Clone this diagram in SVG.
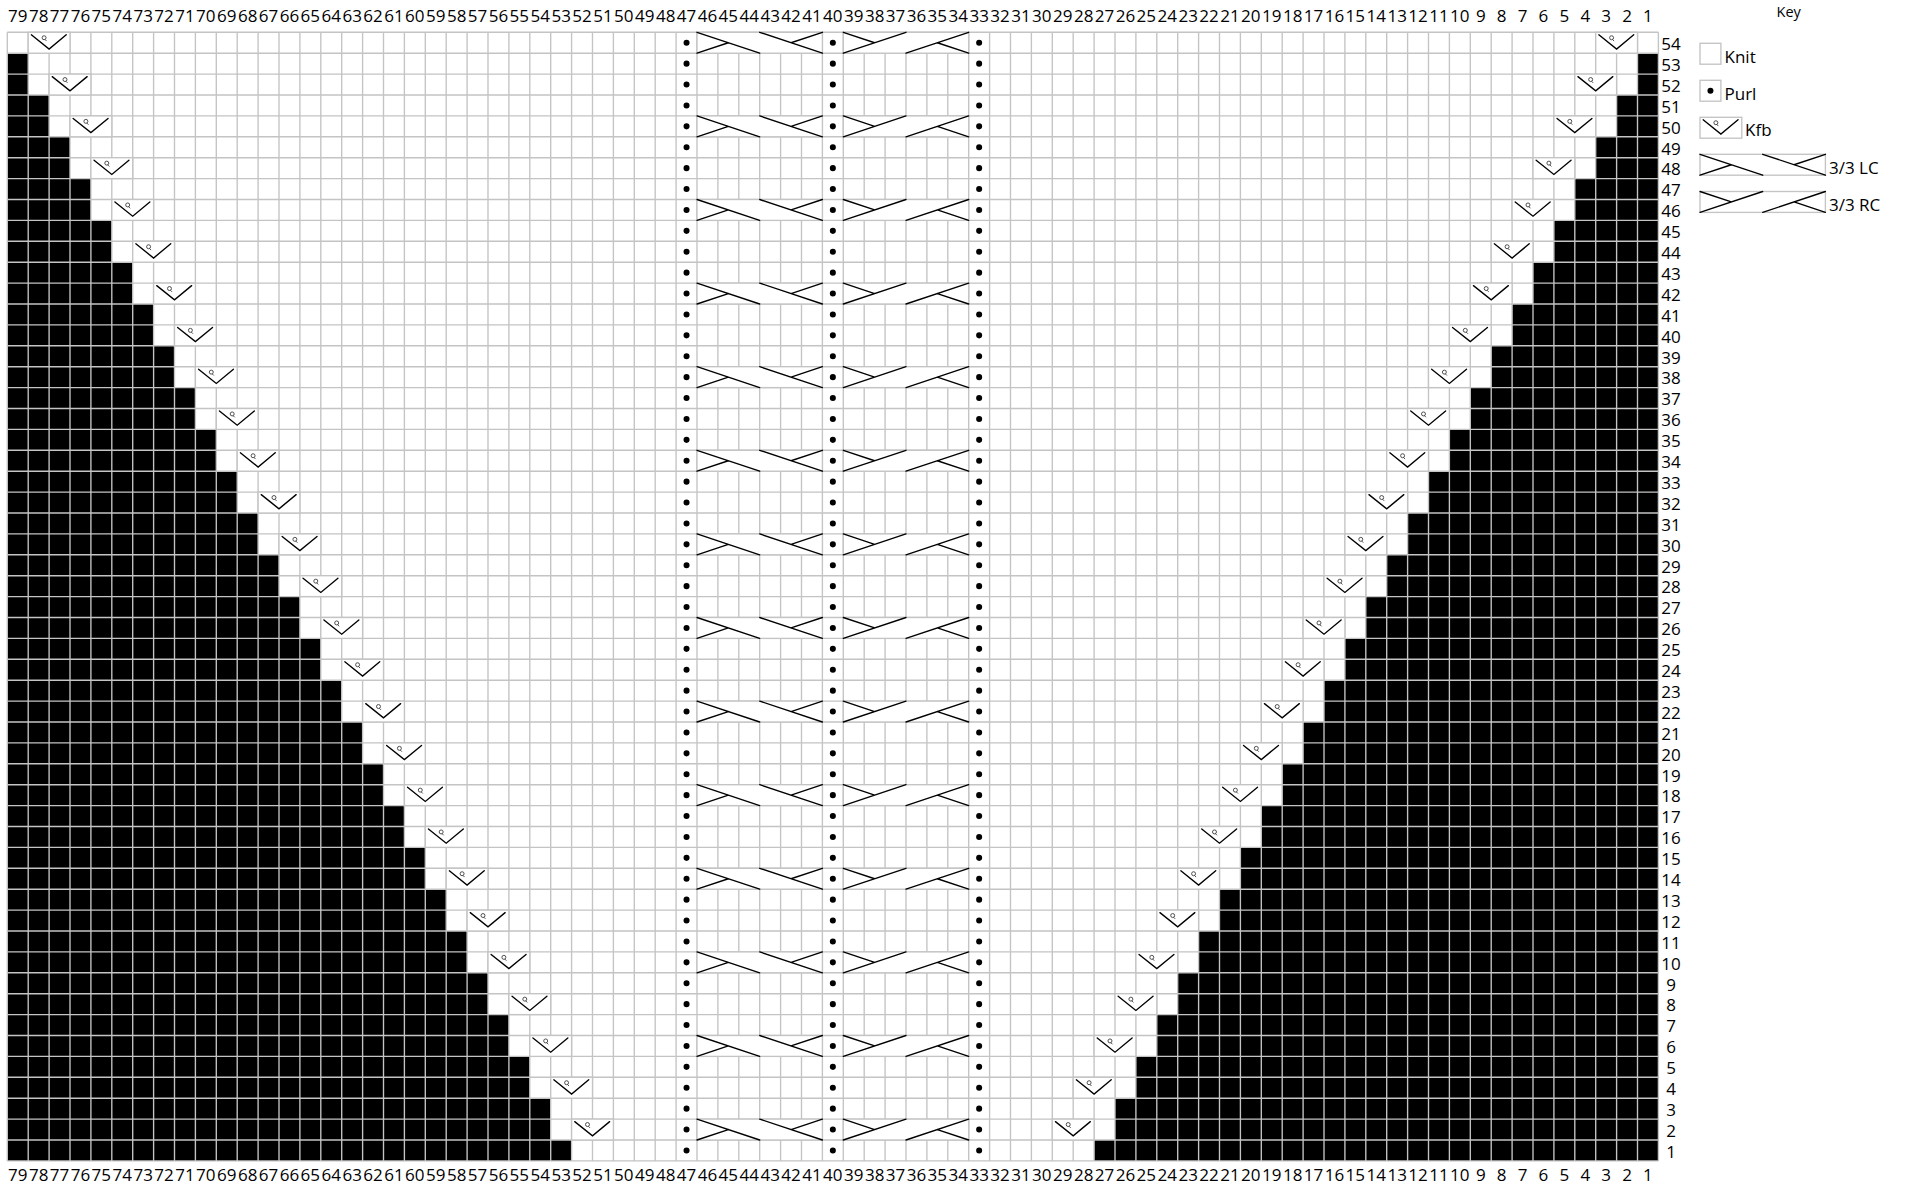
<svg xmlns="http://www.w3.org/2000/svg" xmlns:xlink="http://www.w3.org/1999/xlink" width="1906" height="1188" viewBox="0 0 1906 1188">
<defs>
<style>
.g{stroke:#c4c4c4;stroke-width:0.065;fill:none}
.box{fill:#fff;stroke:#c4c4c4;stroke-width:0.065}
.s{stroke:#000;stroke-width:0.065;fill:none;stroke-linecap:round}
.q{stroke:#444;stroke-width:0.045;fill:none}
text{font-family:"Open Sans","Noto Sans",sans-serif;font-size:17px;fill:#000}
</style>
<g id="kfb"><rect class="box" width="2" height="1"/><polyline class="s" points="0.15,0.12 1,0.8 1.82,0.12"/><circle class="q" cx="0.76" cy="0.26" r="0.095"/><line class="q" x1="0.8" y1="0.34" x2="0.88" y2="0.42"/></g>
<g id="lc"><rect class="box" width="6" height="1"/><path class="s" d="M0,0L3,1M0,1L1.5,0.5M3,0L6,1M6,0L4.5,0.5"/></g>
<g id="rc"><rect class="box" width="6" height="1"/><path class="s" d="M0,0L1.5,0.5M0,1L3,0M3,1L6,0M6,1L4.5,0.5"/></g>
</defs>
<rect width="1906" height="1188" fill="#fff"/>
<g id="chart" transform="translate(7.3 32.3) scale(20.9)">
<rect width="79" height="54" fill="#fff"/>
<path id="black-left" fill="#000" d="M0,1H1V3H2V5H3V7H4V9H5V11H6V13H7V15H8V17H9V19H10V21H11V23H12V25H13V27H14V29H15V31H16V33H17V35H18V37H19V39H20V41H21V43H22V45H23V47H24V49H25V51H26V53H27V54H0Z"/>
<path id="black-right" fill="#000" d="M79,1H78V3H77V5H76V7H75V9H74V11H73V13H72V15H71V17H70V19H69V21H68V23H67V25H66V27H65V29H64V31H63V33H62V35H61V37H60V39H59V41H58V43H57V45H56V47H55V49H54V51H53V53H52V54H79Z"/>
<path id="grid" class="g" d="M0,0V54M1,0V54M2,0V54M3,0V54M4,0V54M5,0V54M6,0V54M7,0V54M8,0V54M9,0V54M10,0V54M11,0V54M12,0V54M13,0V54M14,0V54M15,0V54M16,0V54M17,0V54M18,0V54M19,0V54M20,0V54M21,0V54M22,0V54M23,0V54M24,0V54M25,0V54M26,0V54M27,0V54M28,0V54M29,0V54M30,0V54M31,0V54M32,0V54M33,0V54M34,0V54M35,0V54M36,0V54M37,0V54M38,0V54M39,0V54M40,0V54M41,0V54M42,0V54M43,0V54M44,0V54M45,0V54M46,0V54M47,0V54M48,0V54M49,0V54M50,0V54M51,0V54M52,0V54M53,0V54M54,0V54M55,0V54M56,0V54M57,0V54M58,0V54M59,0V54M60,0V54M61,0V54M62,0V54M63,0V54M64,0V54M65,0V54M66,0V54M67,0V54M68,0V54M69,0V54M70,0V54M71,0V54M72,0V54M73,0V54M74,0V54M75,0V54M76,0V54M77,0V54M78,0V54M79,0V54M0,0H79M0,1H79M0,2H79M0,3H79M0,4H79M0,5H79M0,6H79M0,7H79M0,8H79M0,9H79M0,10H79M0,11H79M0,12H79M0,13H79M0,14H79M0,15H79M0,16H79M0,17H79M0,18H79M0,19H79M0,20H79M0,21H79M0,22H79M0,23H79M0,24H79M0,25H79M0,26H79M0,27H79M0,28H79M0,29H79M0,30H79M0,31H79M0,32H79M0,33H79M0,34H79M0,35H79M0,36H79M0,37H79M0,38H79M0,39H79M0,40H79M0,41H79M0,42H79M0,43H79M0,44H79M0,45H79M0,46H79M0,47H79M0,48H79M0,49H79M0,50H79M0,51H79M0,52H79M0,53H79M0,54H79"/>
<g id="purl-columns"><path d="M32.5,0.5V53.6M39.5,0.5V53.6M46.5,0.5V53.6" stroke="#000" stroke-width="0.29" stroke-linecap="round" stroke-dasharray="0 1" fill="none"/></g>
<g id="kfb-left">
<use xlink:href="#kfb" x="1" y="0"/><use xlink:href="#kfb" x="2" y="2"/><use xlink:href="#kfb" x="3" y="4"/><use xlink:href="#kfb" x="4" y="6"/><use xlink:href="#kfb" x="5" y="8"/><use xlink:href="#kfb" x="6" y="10"/><use xlink:href="#kfb" x="7" y="12"/><use xlink:href="#kfb" x="8" y="14"/><use xlink:href="#kfb" x="9" y="16"/><use xlink:href="#kfb" x="10" y="18"/><use xlink:href="#kfb" x="11" y="20"/><use xlink:href="#kfb" x="12" y="22"/><use xlink:href="#kfb" x="13" y="24"/><use xlink:href="#kfb" x="14" y="26"/><use xlink:href="#kfb" x="15" y="28"/><use xlink:href="#kfb" x="16" y="30"/><use xlink:href="#kfb" x="17" y="32"/><use xlink:href="#kfb" x="18" y="34"/><use xlink:href="#kfb" x="19" y="36"/><use xlink:href="#kfb" x="20" y="38"/><use xlink:href="#kfb" x="21" y="40"/><use xlink:href="#kfb" x="22" y="42"/><use xlink:href="#kfb" x="23" y="44"/><use xlink:href="#kfb" x="24" y="46"/><use xlink:href="#kfb" x="25" y="48"/><use xlink:href="#kfb" x="26" y="50"/><use xlink:href="#kfb" x="27" y="52"/>
</g>
<g id="kfb-right">
<use xlink:href="#kfb" x="76" y="0"/><use xlink:href="#kfb" x="75" y="2"/><use xlink:href="#kfb" x="74" y="4"/><use xlink:href="#kfb" x="73" y="6"/><use xlink:href="#kfb" x="72" y="8"/><use xlink:href="#kfb" x="71" y="10"/><use xlink:href="#kfb" x="70" y="12"/><use xlink:href="#kfb" x="69" y="14"/><use xlink:href="#kfb" x="68" y="16"/><use xlink:href="#kfb" x="67" y="18"/><use xlink:href="#kfb" x="66" y="20"/><use xlink:href="#kfb" x="65" y="22"/><use xlink:href="#kfb" x="64" y="24"/><use xlink:href="#kfb" x="63" y="26"/><use xlink:href="#kfb" x="62" y="28"/><use xlink:href="#kfb" x="61" y="30"/><use xlink:href="#kfb" x="60" y="32"/><use xlink:href="#kfb" x="59" y="34"/><use xlink:href="#kfb" x="58" y="36"/><use xlink:href="#kfb" x="57" y="38"/><use xlink:href="#kfb" x="56" y="40"/><use xlink:href="#kfb" x="55" y="42"/><use xlink:href="#kfb" x="54" y="44"/><use xlink:href="#kfb" x="53" y="46"/><use xlink:href="#kfb" x="52" y="48"/><use xlink:href="#kfb" x="51" y="50"/><use xlink:href="#kfb" x="50" y="52"/>
</g>
<g id="cables-lc">
<use xlink:href="#lc" x="33" y="0"/><use xlink:href="#lc" x="33" y="4"/><use xlink:href="#lc" x="33" y="8"/><use xlink:href="#lc" x="33" y="12"/><use xlink:href="#lc" x="33" y="16"/><use xlink:href="#lc" x="33" y="20"/><use xlink:href="#lc" x="33" y="24"/><use xlink:href="#lc" x="33" y="28"/><use xlink:href="#lc" x="33" y="32"/><use xlink:href="#lc" x="33" y="36"/><use xlink:href="#lc" x="33" y="40"/><use xlink:href="#lc" x="33" y="44"/><use xlink:href="#lc" x="33" y="48"/><use xlink:href="#lc" x="33" y="52"/>
</g>
<g id="cables-rc">
<use xlink:href="#rc" x="40" y="0"/><use xlink:href="#rc" x="40" y="4"/><use xlink:href="#rc" x="40" y="8"/><use xlink:href="#rc" x="40" y="12"/><use xlink:href="#rc" x="40" y="16"/><use xlink:href="#rc" x="40" y="20"/><use xlink:href="#rc" x="40" y="24"/><use xlink:href="#rc" x="40" y="28"/><use xlink:href="#rc" x="40" y="32"/><use xlink:href="#rc" x="40" y="36"/><use xlink:href="#rc" x="40" y="40"/><use xlink:href="#rc" x="40" y="44"/><use xlink:href="#rc" x="40" y="48"/><use xlink:href="#rc" x="40" y="52"/>
</g>
</g>
<text id="col-top" text-anchor="middle" y="21.7"><tspan x="17.75">79</tspan><tspan x="38.65">78</tspan><tspan x="59.55">77</tspan><tspan x="80.45">76</tspan><tspan x="101.35">75</tspan><tspan x="122.25">74</tspan><tspan x="143.15">73</tspan><tspan x="164.05">72</tspan><tspan x="184.95">71</tspan><tspan x="205.85">70</tspan><tspan x="226.75">69</tspan><tspan x="247.65">68</tspan><tspan x="268.55">67</tspan><tspan x="289.45">66</tspan><tspan x="310.35">65</tspan><tspan x="331.25">64</tspan><tspan x="352.15">63</tspan><tspan x="373.05">62</tspan><tspan x="393.95">61</tspan><tspan x="414.85">60</tspan><tspan x="435.75">59</tspan><tspan x="456.65">58</tspan><tspan x="477.55">57</tspan><tspan x="498.45">56</tspan><tspan x="519.35">55</tspan><tspan x="540.25">54</tspan><tspan x="561.15">53</tspan><tspan x="582.05">52</tspan><tspan x="602.95">51</tspan><tspan x="623.85">50</tspan><tspan x="644.75">49</tspan><tspan x="665.65">48</tspan><tspan x="686.55">47</tspan><tspan x="707.45">46</tspan><tspan x="728.35">45</tspan><tspan x="749.25">44</tspan><tspan x="770.15">43</tspan><tspan x="791.05">42</tspan><tspan x="811.95">41</tspan><tspan x="832.85">40</tspan><tspan x="853.75">39</tspan><tspan x="874.65">38</tspan><tspan x="895.55">37</tspan><tspan x="916.45">36</tspan><tspan x="937.35">35</tspan><tspan x="958.25">34</tspan><tspan x="979.15">33</tspan><tspan x="1000.05">32</tspan><tspan x="1020.95">31</tspan><tspan x="1041.85">30</tspan><tspan x="1062.75">29</tspan><tspan x="1083.65">28</tspan><tspan x="1104.55">27</tspan><tspan x="1125.45">26</tspan><tspan x="1146.35">25</tspan><tspan x="1167.25">24</tspan><tspan x="1188.15">23</tspan><tspan x="1209.05">22</tspan><tspan x="1229.95">21</tspan><tspan x="1250.85">20</tspan><tspan x="1271.75">19</tspan><tspan x="1292.65">18</tspan><tspan x="1313.55">17</tspan><tspan x="1334.45">16</tspan><tspan x="1355.35">15</tspan><tspan x="1376.25">14</tspan><tspan x="1397.15">13</tspan><tspan x="1418.05">12</tspan><tspan x="1438.95">11</tspan><tspan x="1459.85">10</tspan><tspan x="1480.75">9</tspan><tspan x="1501.65">8</tspan><tspan x="1522.55">7</tspan><tspan x="1543.45">6</tspan><tspan x="1564.35">5</tspan><tspan x="1585.25">4</tspan><tspan x="1606.15">3</tspan><tspan x="1627.05">2</tspan><tspan x="1647.95">1</tspan></text>
<text id="col-bottom" text-anchor="middle" y="1181"><tspan x="17.75">79</tspan><tspan x="38.65">78</tspan><tspan x="59.55">77</tspan><tspan x="80.45">76</tspan><tspan x="101.35">75</tspan><tspan x="122.25">74</tspan><tspan x="143.15">73</tspan><tspan x="164.05">72</tspan><tspan x="184.95">71</tspan><tspan x="205.85">70</tspan><tspan x="226.75">69</tspan><tspan x="247.65">68</tspan><tspan x="268.55">67</tspan><tspan x="289.45">66</tspan><tspan x="310.35">65</tspan><tspan x="331.25">64</tspan><tspan x="352.15">63</tspan><tspan x="373.05">62</tspan><tspan x="393.95">61</tspan><tspan x="414.85">60</tspan><tspan x="435.75">59</tspan><tspan x="456.65">58</tspan><tspan x="477.55">57</tspan><tspan x="498.45">56</tspan><tspan x="519.35">55</tspan><tspan x="540.25">54</tspan><tspan x="561.15">53</tspan><tspan x="582.05">52</tspan><tspan x="602.95">51</tspan><tspan x="623.85">50</tspan><tspan x="644.75">49</tspan><tspan x="665.65">48</tspan><tspan x="686.55">47</tspan><tspan x="707.45">46</tspan><tspan x="728.35">45</tspan><tspan x="749.25">44</tspan><tspan x="770.15">43</tspan><tspan x="791.05">42</tspan><tspan x="811.95">41</tspan><tspan x="832.85">40</tspan><tspan x="853.75">39</tspan><tspan x="874.65">38</tspan><tspan x="895.55">37</tspan><tspan x="916.45">36</tspan><tspan x="937.35">35</tspan><tspan x="958.25">34</tspan><tspan x="979.15">33</tspan><tspan x="1000.05">32</tspan><tspan x="1020.95">31</tspan><tspan x="1041.85">30</tspan><tspan x="1062.75">29</tspan><tspan x="1083.65">28</tspan><tspan x="1104.55">27</tspan><tspan x="1125.45">26</tspan><tspan x="1146.35">25</tspan><tspan x="1167.25">24</tspan><tspan x="1188.15">23</tspan><tspan x="1209.05">22</tspan><tspan x="1229.95">21</tspan><tspan x="1250.85">20</tspan><tspan x="1271.75">19</tspan><tspan x="1292.65">18</tspan><tspan x="1313.55">17</tspan><tspan x="1334.45">16</tspan><tspan x="1355.35">15</tspan><tspan x="1376.25">14</tspan><tspan x="1397.15">13</tspan><tspan x="1418.05">12</tspan><tspan x="1438.95">11</tspan><tspan x="1459.85">10</tspan><tspan x="1480.75">9</tspan><tspan x="1501.65">8</tspan><tspan x="1522.55">7</tspan><tspan x="1543.45">6</tspan><tspan x="1564.35">5</tspan><tspan x="1585.25">4</tspan><tspan x="1606.15">3</tspan><tspan x="1627.05">2</tspan><tspan x="1647.95">1</tspan></text>
<text id="row-labels" text-anchor="middle"><tspan x="1671" y="50.05">54</tspan><tspan x="1671" y="70.95">53</tspan><tspan x="1671" y="91.85">52</tspan><tspan x="1671" y="112.75">51</tspan><tspan x="1671" y="133.65">50</tspan><tspan x="1671" y="154.55">49</tspan><tspan x="1671" y="175.45">48</tspan><tspan x="1671" y="196.35">47</tspan><tspan x="1671" y="217.25">46</tspan><tspan x="1671" y="238.15">45</tspan><tspan x="1671" y="259.05">44</tspan><tspan x="1671" y="279.95">43</tspan><tspan x="1671" y="300.85">42</tspan><tspan x="1671" y="321.75">41</tspan><tspan x="1671" y="342.65">40</tspan><tspan x="1671" y="363.55">39</tspan><tspan x="1671" y="384.45">38</tspan><tspan x="1671" y="405.35">37</tspan><tspan x="1671" y="426.25">36</tspan><tspan x="1671" y="447.15">35</tspan><tspan x="1671" y="468.05">34</tspan><tspan x="1671" y="488.95">33</tspan><tspan x="1671" y="509.85">32</tspan><tspan x="1671" y="530.75">31</tspan><tspan x="1671" y="551.65">30</tspan><tspan x="1671" y="572.55">29</tspan><tspan x="1671" y="593.45">28</tspan><tspan x="1671" y="614.35">27</tspan><tspan x="1671" y="635.25">26</tspan><tspan x="1671" y="656.15">25</tspan><tspan x="1671" y="677.05">24</tspan><tspan x="1671" y="697.95">23</tspan><tspan x="1671" y="718.85">22</tspan><tspan x="1671" y="739.75">21</tspan><tspan x="1671" y="760.65">20</tspan><tspan x="1671" y="781.55">19</tspan><tspan x="1671" y="802.45">18</tspan><tspan x="1671" y="823.35">17</tspan><tspan x="1671" y="844.25">16</tspan><tspan x="1671" y="865.15">15</tspan><tspan x="1671" y="886.05">14</tspan><tspan x="1671" y="906.95">13</tspan><tspan x="1671" y="927.85">12</tspan><tspan x="1671" y="948.75">11</tspan><tspan x="1671" y="969.65">10</tspan><tspan x="1671" y="990.55">9</tspan><tspan x="1671" y="1011.45">8</tspan><tspan x="1671" y="1032.35">7</tspan><tspan x="1671" y="1053.25">6</tspan><tspan x="1671" y="1074.15">5</tspan><tspan x="1671" y="1095.05">4</tspan><tspan x="1671" y="1115.95">3</tspan><tspan x="1671" y="1136.85">2</tspan><tspan x="1671" y="1157.75">1</tspan></text>
<g id="key">
<text x="1788.7" y="17.3" text-anchor="middle" style="font-size:14.5px">Key</text>
<g id="key-knit"><rect class="box" transform="translate(1700 43.3) scale(20.9)" width="1" height="1"/><text x="1724.5" y="62.5">Knit</text></g>
<g id="key-purl"><g transform="translate(1700 80.3) scale(20.9)"><rect class="box" width="1" height="1"/><circle cx="0.5" cy="0.5" r="0.144" fill="#000"/></g><text x="1724.5" y="99.5">Purl</text></g>
<g id="key-kfb"><use xlink:href="#kfb" transform="translate(1700 117.3) scale(20.9)"/><text x="1745" y="136.3">Kfb</text></g>
<g id="key-lc"><use xlink:href="#lc" transform="translate(1700 154.3) scale(20.9)"/><text x="1829" y="173.7">3/3 LC</text></g>
<g id="key-rc"><use xlink:href="#rc" transform="translate(1700 191.5) scale(20.9)"/><text x="1829" y="210.7">3/3 RC</text></g>
</g>
</svg>
